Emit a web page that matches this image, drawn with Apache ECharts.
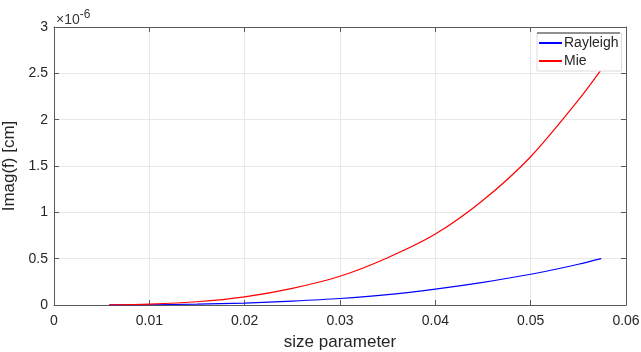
<!DOCTYPE html>
<html><head><meta charset="utf-8">
<script src="https://cdn.jsdelivr.net/npm/echarts@6/dist/echarts.min.js"></script>
<style>html,body{margin:0;padding:0;background:#fff}#c{width:641px;height:352px}</style>
</head><body><div id="c"></div>
<script>
// size parameter values
const sizeParam = [0.0058, 0.01, 0.015, 0.02, 0.025, 0.03, 0.035, 0.04, 0.045, 0.05, 0.055, 0.0574];
// Imag(f) in units of 1e-6 cm
const rayleigh = [0.0005, 0.0027, 0.009, 0.021, 0.042, 0.07, 0.112, 0.172, 0.245, 0.332, 0.44, 0.5];
const mie = [0.002, 0.01, 0.035, 0.088, 0.18, 0.31, 0.51, 0.765, 1.13, 1.6, 2.21, 2.54];
const xTicks = [0, 0.01, 0.02, 0.03, 0.04, 0.05, 0.06];
const yTicks = [0, 0.5, 1, 1.5, 2, 2.5, 3];

const font = 'Liberation Sans, Arial, sans-serif';
const axisCol = '#5a5a5a';
const chart = echarts.init(document.getElementById('c'));
const mk = (arr) => sizeParam.map((x, i) => [x, arr[i]]);
const fmtX = v => (v === 0 ? '0' : String(+v.toFixed(2)));
chart.setOption({
  animation: false,
  grid: { left: 54, right: 15, top: 27, bottom: 47, containLabel: false, outerBoundsMode: 'none' },
  xAxis: [{
    type: 'value', min: xTicks[0], max: xTicks[xTicks.length - 1], interval: 0.01,
    name: 'size parameter', nameLocation: 'middle', nameGap: 29,
    nameTextStyle: { fontFamily: font, fontSize: 17, color: '#262626' },
    axisLine: { lineStyle: { color: axisCol, width: 1 } },
    axisTick: { inside: true, length: 5, lineStyle: { color: axisCol } },
    axisLabel: { fontFamily: font, fontSize: 14, color: '#262626', margin: 9, formatter: fmtX },
    splitLine: { show: true, lineStyle: { color: '#e8e8e8', width: 1 } }
  }, {
    type: 'value', min: xTicks[0], max: xTicks[xTicks.length - 1], interval: 0.01, position: 'top',
    axisLine: { show: true, onZero: false, lineStyle: { color: axisCol } },
    axisTick: { inside: true, length: 5, lineStyle: { color: axisCol } },
    axisLabel: { show: false }, splitLine: { show: false }
  }],
  yAxis: [{
    type: 'value', min: yTicks[0], max: yTicks[yTicks.length - 1], interval: 0.5,
    name: 'Imag(f) [cm]', nameLocation: 'middle', nameGap: 27,
    nameTextStyle: { fontFamily: font, fontSize: 17, color: '#262626' },
    axisLine: { show: true, lineStyle: { color: axisCol } },
    axisTick: { show: true, inside: true, length: 5, lineStyle: { color: axisCol } },
    axisLabel: { fontFamily: font, fontSize: 14, color: '#262626', margin: 6,
      formatter: v => String(v) },
    splitLine: { show: true, lineStyle: { color: '#e8e8e8', width: 1 } }
  }, {
    type: 'value', min: yTicks[0], max: yTicks[yTicks.length - 1], interval: 0.5, position: 'right',
    axisLine: { show: true, onZero: false, lineStyle: { color: axisCol } },
    axisTick: { show: true, inside: true, length: 5, lineStyle: { color: axisCol } },
    axisLabel: { show: false }, splitLine: { show: false }
  }],
  legend: {
    orient: 'vertical', left: 537, top: 33, padding: [3, 3, 3, 2],
    itemWidth: 23, itemHeight: 2, itemGap: 4, icon: 'rect',
    backgroundColor: '#fff', borderColor: '#dcdcdc', borderWidth: 1,
    textStyle: { fontFamily: font, fontSize: 14, color: '#262626', padding: [0, 0, 0, -3] },
    data: ['Rayleigh', 'Mie']
  },
  graphic: [
    { type: 'line', shape: { x1: 537, y1: 33, x2: 620, y2: 33 }, style: { stroke: '#333', lineWidth: 1 }, z: 100 },
    { type: 'text', x: 56, y: 7, style: {
      text: '{b|×10}{s|-6}', fontFamily: font, fontSize: 14, fill: '#3a3a3a',
      rich: {
        b: { fontSize: 14, fontFamily: font, fill: '#3a3a3a', padding: [6, 0, 0, 0] },
        s: { fontSize: 12, fontFamily: font, fill: '#3a3a3a', padding: [0, 0, 4, 0] }
      } } }
  ],
  series: [{
    name: 'Rayleigh', type: 'line', data: mk(rayleigh), smooth: 0.3,
    symbol: 'none', color: '#0000ff', lineStyle: { width: 1.2 }
  }, {
    name: 'Mie', type: 'line', data: mk(mie), smooth: 0.3,
    symbol: 'none', color: '#ff0000', lineStyle: { width: 1.2 }
  }]
});
</script></body></html>
